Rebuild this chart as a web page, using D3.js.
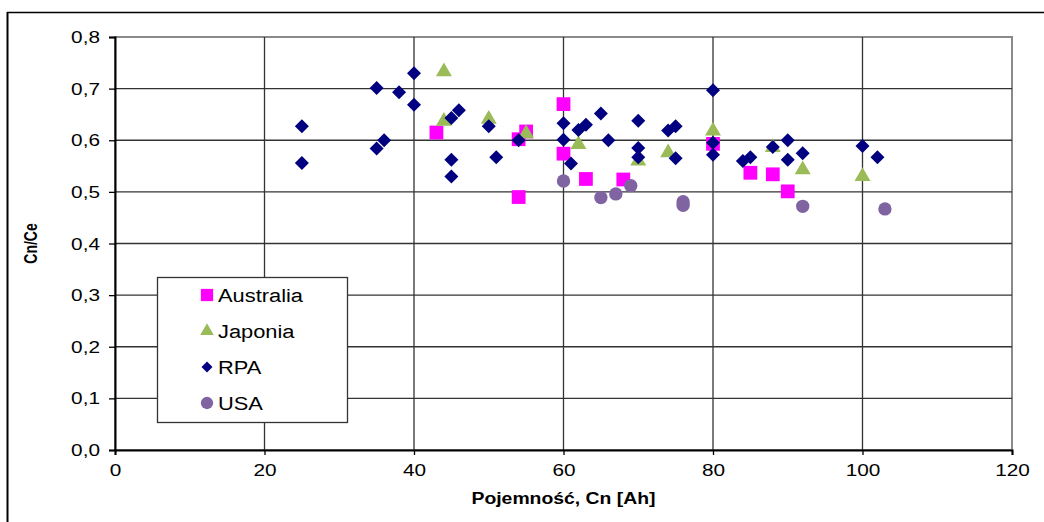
<!DOCTYPE html>
<html>
<head>
<meta charset="utf-8">
<script src="https://cdn.jsdelivr.net/npm/d3@7"></script>
<style>
  html, body { margin: 0; padding: 0; background: #fff; }
  svg { display: block; }
  text { font-family: "Liberation Sans", Arial, sans-serif; fill: #000; }
</style>
</head>
<body>
<svg id="chart" width="1044" height="522"></svg>
<script>
// ---- data ----
const xTicks = [0, 20, 40, 60, 80, 100, 120];
const yTicks = [0, 0.1, 0.2, 0.3, 0.4, 0.5, 0.6, 0.7, 0.8];
const seriesNames = ["Australia", "Japonia", "RPA", "USA"];

const australiaX = [43, 54, 54, 55, 60, 60, 63, 68, 80, 85, 88, 90];
const australiaY = [0.615, 0.602, 0.490, 0.617, 0.670, 0.574, 0.525, 0.524, 0.593, 0.537, 0.534, 0.501];

const japoniaX = [44, 44, 50, 55, 62, 70, 74, 80, 88, 92, 100];
const japoniaY = [0.733, 0.637, 0.641, 0.613, 0.592, 0.560, 0.576, 0.618, 0.586, 0.543, 0.530];

const rpaX = [25, 25, 35, 35, 36, 38, 40, 40, 45, 45, 45, 46, 50, 51, 54, 60, 60, 61, 62, 63, 65, 66, 70, 70, 70, 74, 75, 75, 80, 80, 80, 84, 85, 88, 90, 90, 92, 100, 102];
const rpaY = [0.627, 0.556, 0.701, 0.584, 0.600, 0.693, 0.730, 0.669, 0.643, 0.562, 0.530, 0.658, 0.627, 0.567, 0.600, 0.633, 0.601, 0.555, 0.620, 0.630, 0.652, 0.600, 0.638, 0.585, 0.567, 0.619, 0.627, 0.565, 0.697, 0.595, 0.572, 0.560, 0.567, 0.587, 0.600, 0.562, 0.575, 0.589, 0.567];

const usaX = [60, 65, 67, 69, 76, 76, 92, 103];
const usaY = [0.521, 0.489, 0.496, 0.512, 0.481, 0.474, 0.472, 0.467];

// ---- layout ----
const svg = d3.select("#chart");
const pLeft = 115, pRight = 1012, pTop = 37, pBottom = 450;
const x = d3.scaleLinear().domain([0, 120]).range([pLeft, pRight]);
const y = d3.scaleLinear().domain([0, 0.8]).range([pBottom, pTop]);
const fmt = d => d3.format(".1f")(d).replace(".", ",");

// outer frame (top and left edges visible)
svg.append("line").attr("x1", 7).attr("x2", 1044).attr("y1", 12.5).attr("y2", 12.5)
  .attr("stroke", "#000").attr("stroke-width", 1.5);
svg.append("line").attr("x1", 7.5).attr("x2", 7.5).attr("y1", 12).attr("y2", 522)
  .attr("stroke", "#000").attr("stroke-width", 2);

// plot border (grey)
svg.append("rect").attr("x", pLeft).attr("y", pTop).attr("width", pRight - pLeft).attr("height", pBottom - pTop)
  .attr("fill", "none").attr("stroke", "#8a8a8a").attr("stroke-width", 2);

// gridlines
svg.append("g").selectAll("line").data(yTicks.filter(d => d > 0 && d < 0.8)).join("line")
  .attr("x1", pLeft).attr("x2", pRight).attr("y1", d => y(d)).attr("y2", d => y(d))
  .attr("stroke", "#333").attr("stroke-width", 1.3);
svg.append("g").selectAll("line").data(xTicks.filter(d => d > 0 && d < 120)).join("line")
  .attr("x1", d => x(d)).attr("x2", d => x(d)).attr("y1", pTop).attr("y2", pBottom)
  .attr("stroke", "#333").attr("stroke-width", 1.3);

// axes
const xAxis = svg.append("g").attr("transform", `translate(0,${pBottom})`)
  .call(d3.axisBottom(x).tickValues(xTicks).tickSize(5).tickPadding(8).tickFormat(d3.format("d")));
const yAxis = svg.append("g").attr("transform", `translate(${pLeft},0)`)
  .call(d3.axisLeft(y).tickValues(yTicks).tickSize(6).tickPadding(10).tickFormat(fmt));
[xAxis, yAxis].forEach(a => {
  a.select(".domain").attr("stroke", "#000").attr("stroke-width", 2);
  a.selectAll(".tick line").attr("stroke", "#000").attr("stroke-width", 1.3);
  a.selectAll("text").style("font-family", "'Liberation Sans', Arial, sans-serif")
    .style("font-size", "16px").attr("fill", "#222");
});
// horizontally stretched labels like the reference
yAxis.selectAll(".tick text").attr("x", 0).attr("dy", "0.35em")
  .attr("transform", "translate(-15,0) scale(1.3,1)");
xAxis.selectAll(".tick text").attr("y", 0).attr("dy", "0.9em")
  .attr("transform", "translate(0,12) scale(1.3,1)");

// axis titles
svg.append("text").attr("transform", `translate(${(pLeft + pRight) / 2},504) scale(1.14,1)`)
  .attr("text-anchor", "middle")
  .style("font-size", "17px").style("font-weight", "bold").text("Pojemność, Cn [Ah]");
svg.append("text").attr("transform", `translate(37,${(pTop + pBottom) / 2}) rotate(-90) scale(1,1.25)`)
  .attr("text-anchor", "middle").style("font-size", "14px").style("font-weight", "bold").text("Cn/Ce");

// markers
const squareDiamond = {
  draw(ctx, size) {
    const r = Math.sqrt(size / 2);
    ctx.moveTo(0, -r); ctx.lineTo(r, 0); ctx.lineTo(0, r); ctx.lineTo(-r, 0); ctx.closePath();
  }
};
const colors = { Australia: "#FF00FF", Japonia: "#9BBB59", RPA: "#000080", USA: "#8064A2" };
const shapes = {
  Australia: d3.symbol().type(d3.symbolSquare).size(190),
  Japonia: d3.symbol().type(d3.symbolTriangle).size(110),
  RPA: d3.symbol().type(squareDiamond).size(98),
  USA: d3.symbol().type(d3.symbolCircle).size(140)
};
const seriesData = [
  ["Australia", australiaX, australiaY],
  ["Japonia", japoniaX, japoniaY],
  ["RPA", rpaX, rpaY],
  ["USA", usaX, usaY]
];
seriesData.forEach(([name, xs, ys]) => {
  svg.append("g").selectAll("path").data(xs.map((v, i) => [v, ys[i]])).join("path")
    .attr("d", shapes[name]())
    .attr("transform", d => `translate(${x(d[0])},${y(d[1])})`)
    .attr("fill", colors[name]);
});

// legend
const lg = svg.append("g");
lg.append("rect").attr("x", 157.5).attr("y", 277.5).attr("width", 190).attr("height", 145)
  .attr("fill", "#fff").attr("stroke", "#333").attr("stroke-width", 1.3);
const legendShapes = {
  Australia: d3.symbol().type(d3.symbolSquare).size(150),
  Japonia: d3.symbol().type(d3.symbolTriangle).size(80),
  RPA: d3.symbol().type(squareDiamond).size(60),
  USA: d3.symbol().type(d3.symbolCircle).size(120)
};
seriesNames.forEach((name, i) => {
  const cy = 295 + i * 36;
  lg.append("path").attr("d", legendShapes[name]()).attr("transform", `translate(207,${cy})`)
    .attr("fill", colors[name]);
  lg.append("text").attr("transform", `translate(218,${cy}) scale(1.15,1)`).attr("dy", "0.36em")
    .style("font-size", "19px").text(name);
});
</script>
</body>
</html>
